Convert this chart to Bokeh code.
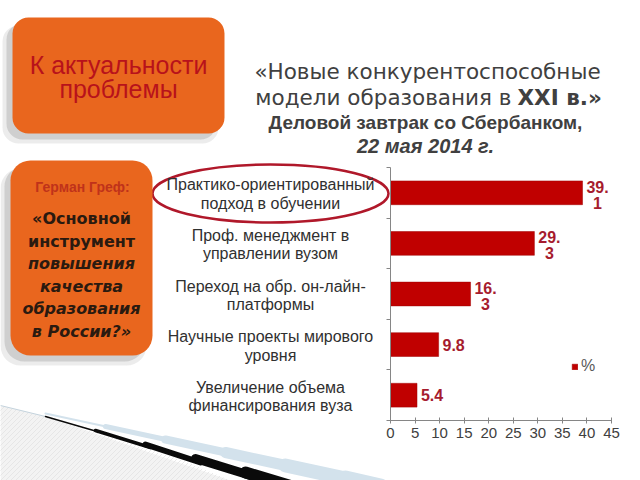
import numpy as np
from bokeh.plotting import figure
from bokeh.models import (Range1d, LinearAxis, FixedTicker, ColumnDataSource,
                          LabelSet, Label, BoxAnnotation, Legend, LegendItem)
from bokeh.core.properties import value
from bokeh.embed import file_html
from bokeh.resources import INLINE

# ---------------- data ----------------
categories = [
    "Практико-ориентированный\nподход в обучении",
    "Проф. менеджмент в\nуправлении вузом",
    "Переход на обр. он-лайн-\nплатформы",
    "Научные проекты мирового\nуровня",
    "Увеличение объема\nфинансирования вуза",
]
values = [39.1, 29.3, 16.3, 9.8, 5.4]
value_labels = ["39.\n1", "29.\n3", "16.\n3", "9.8", "5.4"]
x_ticks = [0, 5, 10, 15, 20, 25, 30, 35, 40, 45]
series_name = "%"

n = len(categories)
band_pos = [n - 0.5 - i for i in range(n)]   # category band centres, first on top

# ---------------- layout ----------------
W, H = 640, 480
FL, FR, FT, FB = 390, 611, 167, 420        # chart area (axes box) in canvas pixels
XMAX = 45
SX = (FR - FL) / XMAX                        # px per value unit
SY = (FB - FT) / n                           # px per category band

p = figure(width=W, height=H, output_backend="svg", toolbar_location=None, title=None,
           x_range=Range1d(-FL / SX, (W - FL) / SX),
           y_range=Range1d(-(H - FB) / SY, n + FT / SY),
           x_axis_location=None, y_axis_location=None, min_border=0)
p.outline_line_color = None
p.grid.visible = False
p.background_fill_color = "white"
p.border_fill_color = "white"
p.extra_x_ranges = {"px": Range1d(0, W)}
p.extra_y_ranges = {"px": Range1d(H, 0)}

AX = "#868686"
xaxis = LinearAxis(ticker=FixedTicker(ticks=x_ticks), bounds=(0, XMAX), fixed_location=0,
                   axis_line_color=AX, major_tick_line_color=AX, major_tick_in=3,
                   major_tick_out=3, minor_tick_line_color=None, major_label_standoff=4,
                   major_label_text_font="Liberation Sans", major_label_text_font_size="15px",
                   major_label_text_color="#404040")
p.add_layout(xaxis, "below")
yaxis = LinearAxis(ticker=FixedTicker(ticks=list(range(n + 1))), bounds=(0, n), fixed_location=0,
                   axis_line_color=AX, major_tick_line_color=AX, major_tick_in=0,
                   major_tick_out=4, minor_tick_line_color=None,
                   major_label_overrides={i: "" for i in range(n + 1)})
p.add_layout(yaxis, "left")

PX = dict(x_range_name="px", y_range_name="px")

# ---------------- decorations (background) ----------------
# bottom-left swoosh: faint striped area, pale blue glow, black tapered stroke
p.patch([0, 45, 230, 0], [405, 416, 480, 480], fill_color="#f3f3f3", line_color=None, **PX)
stripes_x, stripes_y = [], []
for k in range(-480, 240, 5):
    stripes_x.append([k, k + 75])
    stripes_y.append([480, 405])
p.multi_line(xs=stripes_x, ys=stripes_y, line_color="#e2e2e2", line_width=0.8, **PX)
p.patch([0, 0, 45, 180, 230, 372, 372, 0], [380, 405, 416, 459, 480, 480, 380, 380],
        fill_color="white", line_color=None, **PX)
p.line([0, 45], [405, 416], line_color="#c3d2dc", line_width=1, **PX)

glow_x = [[45, 110], [105, 170], [165, 230], [225, 290], [285, 350], [345, 380]]
glow_y = [[413, 427], [426, 440], [439, 453], [452, 466], [465, 479], [478, 486]]
p.multi_line(xs=glow_x, ys=glow_y, line_color="#d3e2ec", line_width=[2, 5, 8, 11, 14, 16],
             line_cap="round", **PX)
seg_x = [[45, 100], [95, 150], [145, 200], [195, 250], [245, 295]]
seg_y = [[416, 432], [430, 447], [444, 462], [458, 475], [472, 487]]
p.multi_line(xs=seg_x, ys=seg_y, line_color="#0a0a0a", line_width=[1.5, 3.5, 6, 9, 12],
             line_cap="round", **PX)

for (l, r, t, b, rad) in [(12, 224, 17, 133, 16), (10, 152, 160, 355, 20)]:
    p.add_layout(BoxAnnotation(left=l - 10, right=r - 6, top=t + 8, bottom=b + 10,
                               fill_color="#a0a0a0", fill_alpha=0.2, line_color=None,
                               border_radius=rad, **PX))
    p.add_layout(BoxAnnotation(left=l - 6, right=r - 8, top=t + 6, bottom=b + 6,
                               fill_color="#8a8a8a", fill_alpha=0.3, line_color=None,
                               border_radius=rad, **PX))
    p.add_layout(BoxAnnotation(left=l, right=r, top=t, bottom=b, fill_color="#e9661e",
                               fill_alpha=1, line_color=None, border_radius=rad, **PX))

# ---------------- texts ----------------
def label(x, y, text, size, color, font="Liberation Sans", style="normal", align="center"):
    p.add_layout(Label(x=x, y=y, text=text, text_align=align, text_baseline="middle",
                       text_font=font, text_font_style=style, text_font_size=size,
                       text_color=color, **PX))

label(118, 64, "К актуальности", "25px", "#b8121b")
label(118, 88, "проблемы", "25px", "#b8121b")

label(82, 186, "Герман Греф:", "14px", "#c0321a", style="bold")
quote = [("«Основной", "bold", 0), ("инструмент", "bold", 0),
         ("повышения", "bold italic", 58), ("качества", "bold italic", 42),
         ("образования", "bold italic", 60), ("в России?»", "bold italic", 0)]
for i, (t, st, ul) in enumerate(quote):
    yy = 218 + i * 22.6
    label(81, yy, t, "16px", "#2a1a10", font="DejaVu Sans", style=st)
    if ul:
        p.segment(x0=81 - ul, x1=81 + ul, y0=yy + 9.5, y1=yy + 9.5,
                  line_color="#2a1a10", line_width=1.3, **PX)

TC = "#404040"
label(427, 71, "«Новые конкурентоспособные", "21.5px", TC, font="DejaVu Sans")
label(511, 97, "модели образования в", "21.5px", TC, font="DejaVu Sans", align="right")
label(517, 97, "XXI в.»", "21.5px", TC, font="DejaVu Sans", style="bold", align="left")
label(425, 122, "Деловой завтрак со Сбербанком,", "19px", TC, style="bold")
label(425, 145, "22 мая 2014 г.", "20px", TC, style="bold italic")

# ---------------- chart ----------------
cat_l1 = [c.split("\n")[0] for c in categories]
cat_l2 = [c.split("\n")[1] if "\n" in c else "" for c in categories]
v_l1 = [s.split("\n")[0] for s in value_labels]
v_l2 = [s.split("\n")[1] if "\n" in s else "" for s in value_labels]
two = ["\n" in s for s in value_labels]

src = ColumnDataSource(dict(
    pos=band_pos, val=values,
    cat1=cat_l1, cat2=cat_l2,
    cat1_y=[y + 8 / SY for y in band_pos], cat2_y=[y - 10.5 / SY for y in band_pos],
    v1=v_l1, v2=v_l2,
    v1_y=[y + (6 / SY if tw else 0) for y, tw in zip(band_pos, two)],
    v2_y=[y - 10 / SY for y in band_pos],
    vx=[v + 15 / SX for v in values],
))

bars = p.hbar(y="pos", right="val", left=0, height=0.47, source=src,
              fill_color="#c00000", line_color="#a00000", line_width=0.5)

VC = "#a61c2e"
for col, ycol in (("v1", "v1_y"), ("v2", "v2_y")):
    p.add_layout(LabelSet(x="vx", y=ycol, text=col, source=src,
                          text_align="center", text_baseline="middle",
                          text_font=value("Liberation Sans"), text_font_style="bold",
                          text_font_size="16px", text_color=VC))

for col, ycol in (("cat1", "cat1_y"), ("cat2", "cat2_y")):
    p.add_layout(LabelSet(x=270, y=ycol, text=col, source=src, x_range_name="px",
                          text_align="center", text_baseline="middle",
                          text_font=value("Liberation Sans"), text_font_size="16px",
                          text_color="#303030"))

p.ellipse(x=270, y=193, width=236, height=58, fill_color=None, line_color="#b0182a",
          line_width=2.5, **PX)

legend = Legend(items=[LegendItem(label=series_name, renderers=[bars])],
                location=(571, 105),
                glyph_width=7, glyph_height=7, label_standoff=3, padding=0, margin=0,
                border_line_color=None, background_fill_alpha=0,
                label_text_font="Liberation Sans", label_text_font_size="16px",
                label_text_color="#595959", label_height=16)
p.add_layout(legend, "center")

open("out.html", "w").write(file_html(p, INLINE))
